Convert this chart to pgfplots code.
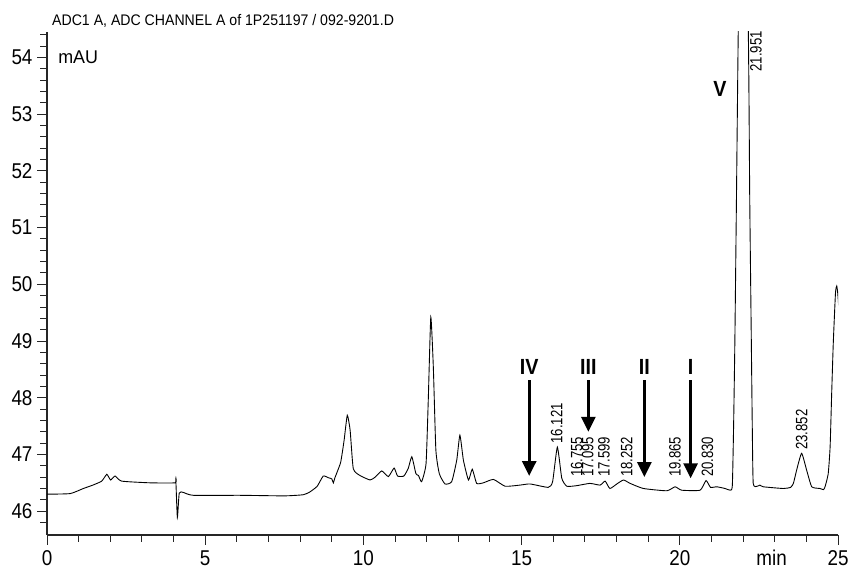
\documentclass[border=0pt]{standalone}
\usepackage{fontspec}
\setmainfont[FakeStretch=0.88]{Liberation Sans}
\newfontfamily\titlef[FakeStretch=0.92]{Liberation Sans}
\newfontfamily\peakf[FakeStretch=0.8]{Liberation Sans}
\newfontfamily\romf[FakeStretch=0.9]{Liberation Sans}
\usepackage{pgfplots}
\pgfplotsset{compat=1.18}
\usetikzlibrary{arrows.meta}
\begin{document}
\begin{tikzpicture}[x=1bp,y=1bp]
\useasboundingbox (0,0) rectangle (850,568);
\begin{axis}[
  at={(47bp,33bp)}, anchor=south west,
  scale only axis, width=791bp, height=503bp,
  xmin=0, xmax=25, ymin=45.58, ymax=54.45,
  axis x line=bottom, axis y line=left,
  axis line style={-, line width=1.1pt, black!85},
  tick align=outside,
  xtick={0,5,10,15,20,25},
  minor xtick={1,2,3,4,6,7,8,9,11,12,13,14,16,17,18,19,21,22,23,24},
  ytick={46,47,48,49,50,51,52,53,54},
  minor ytick={45.8,46.2,46.4,46.6,46.8,47.2,47.4,47.6,47.8,48.2,48.4,48.6,48.8,49.2,49.4,49.6,49.8,50.2,50.4,50.6,50.8,51.2,51.4,51.6,51.8,52.2,52.4,52.6,52.8,53.2,53.4,53.6,53.8,54.2,54.4},
  tick style={line width=1pt, black!85},
  major tick length=10bp,
  minor tick length=7bp,
  /pgf/number format/assume math mode=true,
  tick label style={font=\fontsize{21.5}{21.5}\selectfont},
  xticklabel style={text height=15.5bp, text depth=0pt, yshift=-1bp},
  yticklabel style={xshift=-1bp},
  extra x ticks={22.9},
  extra x tick labels={min},
  extra x tick style={tick style={draw=none}},
  clip mode=individual,
]
\addplot[black, line width=0.9pt, smooth, tension=0.3] coordinates {
(0.00,46.30) (0.73,46.31) (1.15,46.40) (1.45,46.46) (1.73,46.53) (1.89,46.65)
(2.01,46.55) (2.15,46.62) (2.36,46.53) (3.26,46.50) (4.05,46.50) (4.07,46.57)
(4.12,45.89) (4.18,46.32) (4.31,46.33) (4.62,46.28) (6.10,46.28) (7.50,46.27)
(8.10,46.29) (8.31,46.34) (8.54,46.44) (8.73,46.62) (8.89,46.59) (9.00,46.57)
(9.05,46.50) (9.10,46.59) (9.28,46.86) (9.39,47.25) (9.49,47.69) (9.58,47.43)
(9.68,46.75) (9.89,46.63) (10.21,46.55) (10.37,46.60) (10.58,46.71) (10.79,46.61)
(10.97,46.76) (11.08,46.62) (11.28,46.62) (11.42,46.76) (11.53,46.96) (11.66,46.66)
(11.74,46.63) (11.84,46.52) (11.98,46.84) (12.05,47.96) (12.13,49.42) (12.21,48.54)
(12.29,47.08) (12.40,46.66) (12.58,46.48) (12.79,46.52) (12.95,46.90) (13.05,47.34)
(13.16,46.90) (13.32,46.55) (13.44,46.74) (13.58,46.49) (13.79,46.50) (14.11,46.56)
(14.48,46.44) (14.95,46.46) (15.27,46.48) (15.84,46.42) (15.98,46.52) (16.13,47.13)
(16.27,46.58) (16.43,46.44) (16.74,46.45) (17.16,46.49) (17.48,46.46) (17.64,46.53)
(17.79,46.40) (18.01,46.48) (18.22,46.55) (18.43,46.49) (18.85,46.40) (19.59,46.36)
(19.85,46.43) (20.06,46.37) (20.64,46.37) (20.83,46.54) (20.97,46.42) (21.17,46.43)
(21.43,46.40) (21.59,46.37) (21.66,46.45) (21.70,47.5) (21.74,49.0) (21.79,51.5)
(21.85,54.6) (21.95,58) (22.16,54.6) (22.21,51.5) (22.26,49.0) (22.29,47.5)
(22.32,46.49) (22.45,46.44) (22.53,46.46) (22.64,46.43) (23.27,46.40)
(23.50,46.42) (23.59,46.49) (23.69,46.72) (23.85,47.02) (24.01,46.72) (24.17,46.43)
(24.43,46.40) (24.54,46.38) (24.59,46.43) (24.69,46.66) (24.75,47.13) (24.80,48.08)
(24.85,48.96) (24.92,49.85) (24.96,49.97) (24.99,49.85) (25.02,49.63)
};
% arrows
\draw[line width=2.8bp, -{Triangle[width=14bp,length=15bp]}] (axis cs:15.24,48.31) -- (axis cs:15.24,46.62);
\draw[line width=2.8bp, -{Triangle[width=14bp,length=15bp]}] (axis cs:17.11,48.31) -- (axis cs:17.11,47.40);
\draw[line width=2.8bp, -{Triangle[width=14bp,length=15bp]}] (axis cs:18.88,48.31) -- (axis cs:18.88,46.60);
\draw[line width=2.8bp, -{Triangle[width=14bp,length=15bp]}] (axis cs:20.34,48.31) -- (axis cs:20.34,46.58);
\node[font=\romf\bfseries\fontsize{22}{22}\selectfont] at (axis cs:15.24,48.55) {IV};
\node[font=\romf\bfseries\fontsize{22}{22}\selectfont] at (axis cs:17.11,48.55) {III};
\node[font=\romf\bfseries\fontsize{22}{22}\selectfont] at (axis cs:18.88,48.55) {II};
\node[font=\romf\bfseries\fontsize{22}{22}\selectfont] at (axis cs:20.34,48.55) {I};
\node[font=\romf\bfseries\fontsize{22}{22}\selectfont] at (axis cs:21.27,53.45) {V};
% peak labels
\begin{scope}[every node/.style={rotate=90, anchor=west, inner sep=0pt, font=\peakf\fontsize{16.5}{16.5}\selectfont}]
\node at (axis cs:16.11,47.19) {16.121};
\node at (axis cs:16.74,46.60) {16.755};
\node at (axis cs:17.09,46.60) {17.095};
\node at (axis cs:17.60,46.60) {17.599};
\node at (axis cs:18.32,46.60) {18.252};
\node at (axis cs:19.85,46.60) {19.865};
\node at (axis cs:20.87,46.60) {20.830};
\node at (axis cs:22.41,53.75) {21.951};
\node at (axis cs:23.85,47.08) {23.852};
\end{scope}
\node[anchor=base west, inner sep=0pt, font=\fontsize{18.5}{18.5}\selectfont] at (axis cs:0.35,53.90) {\addfontfeature{FakeStretch=0.97}mAU};
\node[anchor=base west, inner sep=0pt, font=\titlef\fontsize{15.4}{15.4}\selectfont] at ([xshift=5bp,yshift=6bp]rel axis cs:0,1) {ADC1 A, ADC CHANNEL A of 1P251197 / 092-9201.D};
\end{axis}
\end{tikzpicture}
\end{document}
